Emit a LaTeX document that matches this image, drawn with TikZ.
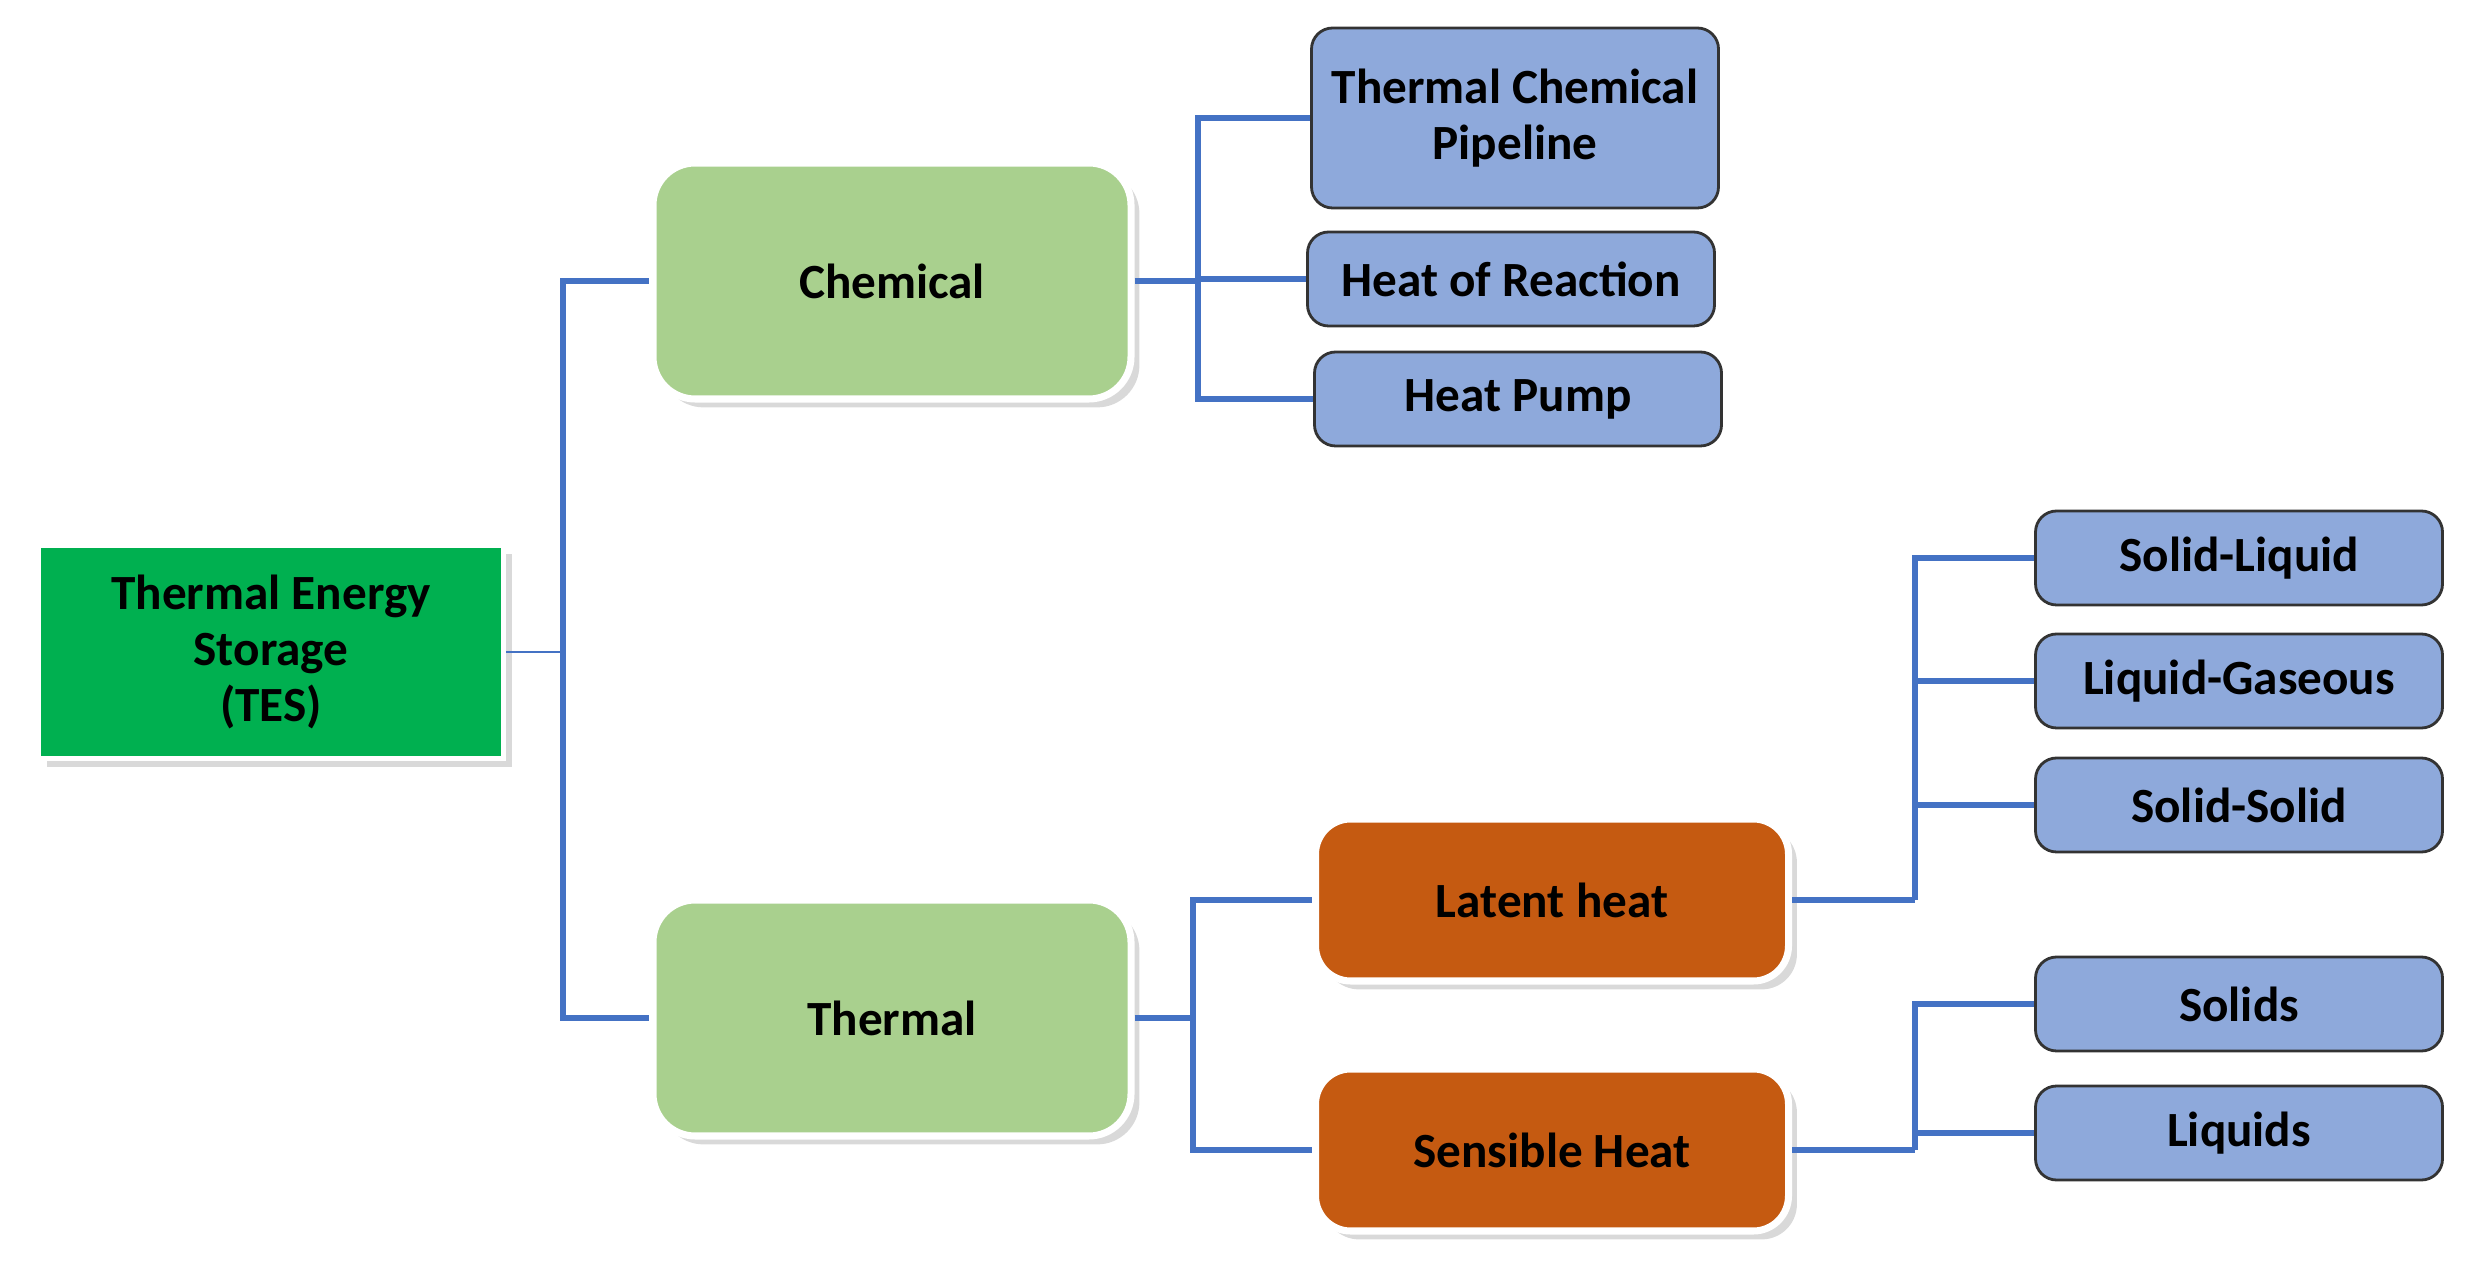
\documentclass[tikz,border=0pt]{standalone}
\usepackage{fontspec}
\setmainfont{Carlito}
\usetikzlibrary{positioning,shadows}
\definecolor{tesgreen}{RGB}{0,176,80}
\definecolor{lgreen}{RGB}{169,208,142}
\definecolor{lblue}{RGB}{142,169,219}
\definecolor{dorange}{RGB}{197,90,17}
\definecolor{lineblue}{RGB}{68,114,196}
\begin{document}
\begin{tikzpicture}
\tikzstyle{every node}=[font=\fontsize{14}{16}\selectfont\bfseries, align=center]
\tikzset{
root/.style={rectangle, fill=tesgreen, draw=white, line width=1.5pt, drop shadow={opacity=0.3},
  minimum width=4.65cm, minimum height=2.13cm},
main/.style={rectangle, rounded corners=12pt, fill=lgreen, draw=white, line width=2pt,
  drop shadow={opacity=0.3}, minimum width=4.78cm, minimum height=2.36cm},
sub/.style={rectangle, rounded corners=10pt, fill=dorange, draw=white, line width=2pt,
  drop shadow={opacity=0.3}, minimum width=4.73cm, minimum height=1.62cm},
leaf/.style={rectangle, rounded corners=6pt, fill=lblue, draw=black!80, thick,
  minimum width=4.07cm, minimum height=0.94cm, inner sep=1pt},
conn/.style={draw=lineblue, line width=1.8pt}
}
\useasboundingbox (0,0) rectangle (24.71,12.67);

\node[root] at (2.71, 6.15) (tes) {Thermal Energy\\Storage\\(TES)};

\node[main] at (8.92, 9.86) (chem) {Chemical};
\node[main] at (8.92, 2.49) (therm) {Thermal};

\node[leaf, minimum height=1.80cm] at (15.15, 11.49) (pipe) {Thermal Chemical\\Pipeline};
\node[leaf] at (15.11, 9.88) (reac) {Heat of Reaction};
\node[leaf] at (15.18, 8.68) (pump) {Heat Pump};

\node[sub] at (15.52, 3.67) (latent) {Latent heat};
\node[sub] at (15.52, 1.17) (sens) {Sensible Heat};

\node[leaf] at (22.39, 7.09) (sl) {Solid-Liquid};
\node[leaf] at (22.39, 5.86) (lg) {Liquid-Gaseous};
\node[leaf] at (22.39, 4.62) (ss) {Solid-Solid};
\node[leaf] at (22.39, 2.63) (solids) {Solids};
\node[leaf] at (22.39, 1.34) (liquids) {Liquids};

% buses
\coordinate (btes) at (5.63, 6.15);
\coordinate (bchem) at (11.98, 9.86);
\coordinate (btherm) at (11.93, 2.49);
\coordinate (blat) at (19.15, 3.67);
\coordinate (bsens) at (19.15, 1.17);

\draw[draw=lineblue, line width=0.6pt] (tes.east) -- (btes);
\draw[conn] (btes) |- (chem.west);
\draw[conn] (btes) |- (therm.west);

\draw[conn] (chem.east) -- (bchem);
\draw[conn] (bchem) |- (pipe.west);
\draw[conn] (bchem) |- (reac.west);
\draw[conn] (bchem) |- (pump.west);

\draw[conn] (therm.east) -- (btherm);
\draw[conn] (btherm) |- (latent.west);
\draw[conn] (btherm) |- (sens.west);

\draw[conn] (latent.east) -- (blat);
\draw[conn] (blat) |- (sl.west);
\draw[conn] (blat) |- (lg.west);
\draw[conn] (blat) |- (ss.west);

\draw[conn] (sens.east) -- (bsens);
\draw[conn] (bsens) |- (solids.west);
\draw[conn] (bsens) |- (liquids.west);

\end{tikzpicture}
\end{document}
